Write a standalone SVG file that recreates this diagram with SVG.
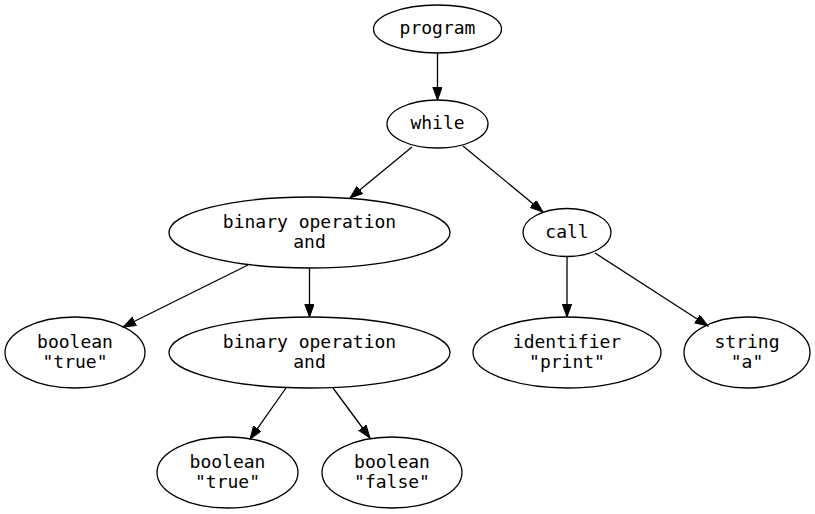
<svg xmlns="http://www.w3.org/2000/svg" width="815" height="514" viewBox="0 0 815 514">
<style>
  .node ellipse { fill: none; stroke: #000; stroke-width: 1.3; }
  .node text { font-family: "DejaVu Sans Mono", monospace; font-size: 18px; text-anchor: middle; fill: #000; }
  #edges line { stroke: #000; stroke-width: 1.3; marker-end: url(#arrow); }
</style>
<defs>
  <marker id="arrow" markerUnits="userSpaceOnUse" markerWidth="14" markerHeight="10" refX="13" refY="4.7" orient="auto">
    <path d="M0,0 L13,4.7 L0,9.4 z" fill="#000" stroke="#000" stroke-width="1"/>
  </marker>
</defs>
<rect width="815" height="514" fill="#fff"/>
<g id="edges">
  <line x1="437.5" y1="53" x2="437.5" y2="100"/>
  <line x1="412" y1="147" x2="350" y2="198"/>
  <line x1="463" y1="146" x2="543" y2="212"/>
  <line x1="248" y1="265" x2="123" y2="327"/>
  <line x1="309.5" y1="268" x2="309.5" y2="317"/>
  <line x1="567" y1="256.5" x2="567" y2="317"/>
  <line x1="595" y1="253" x2="708" y2="326"/>
  <line x1="286" y1="388" x2="250" y2="439"/>
  <line x1="333" y1="388" x2="370" y2="438"/>
</g>
<g id="program" class="node">
  <ellipse cx="437.5" cy="29" rx="64" ry="24"/>
  <text x="437.5" y="34">program</text>
</g>
<g id="while" class="node">
  <ellipse cx="437.5" cy="124" rx="50.5" ry="24"/>
  <text x="437.5" y="129">while</text>
</g>
<g id="binop1" class="node">
  <ellipse cx="309.5" cy="232.5" rx="140.5" ry="35.5"/>
  <text x="309.5" y="227.5">binary operation</text>
  <text x="309.5" y="247.5">and</text>
</g>
<g id="call" class="node">
  <ellipse cx="567" cy="232.5" rx="44" ry="24"/>
  <text x="567" y="237.5">call</text>
</g>
<g id="bool_true1" class="node">
  <ellipse cx="75" cy="352.5" rx="70" ry="35.5"/>
  <text x="75" y="347.5">boolean</text>
  <text x="75" y="367.5">"true"</text>
</g>
<g id="binop2" class="node">
  <ellipse cx="309.5" cy="352.5" rx="140.5" ry="35.5"/>
  <text x="309.5" y="347.5">binary operation</text>
  <text x="309.5" y="367.5">and</text>
</g>
<g id="identifier" class="node">
  <ellipse cx="567" cy="352.5" rx="94" ry="35.5"/>
  <text x="567" y="347.5">identifier</text>
  <text x="567" y="367.5">"print"</text>
</g>
<g id="string" class="node">
  <ellipse cx="747" cy="352.5" rx="63" ry="35.5"/>
  <text x="747" y="347.5">string</text>
  <text x="747" y="367.5">"a"</text>
</g>
<g id="bool_true2" class="node">
  <ellipse cx="227.5" cy="472.5" rx="70.5" ry="35.5"/>
  <text x="227.5" y="467.5">boolean</text>
  <text x="227.5" y="487.5">"true"</text>
</g>
<g id="bool_false" class="node">
  <ellipse cx="392" cy="472.5" rx="70" ry="35.5"/>
  <text x="392" y="467.5">boolean</text>
  <text x="392" y="487.5">"false"</text>
</g>
</svg>
